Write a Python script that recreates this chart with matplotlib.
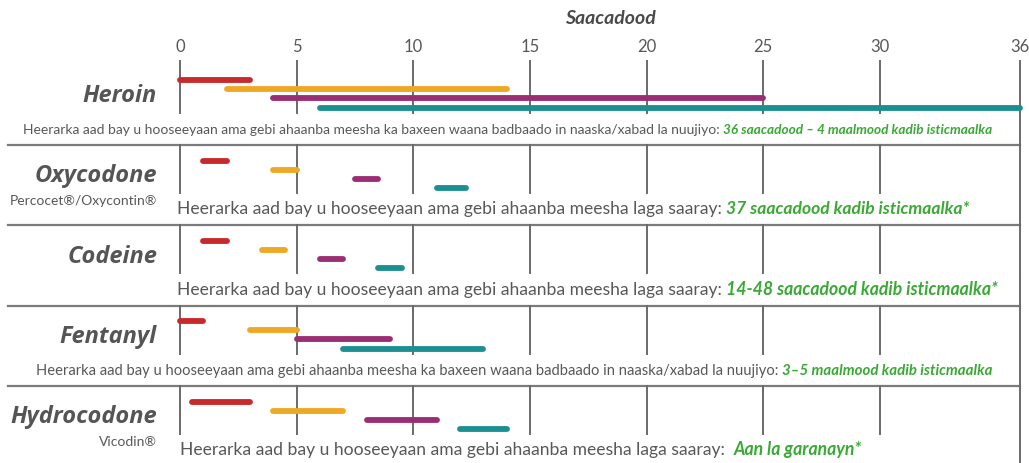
import matplotlib
matplotlib.use('Agg')
import matplotlib.pyplot as plt

plt.rcParams['font.family'] = ['Lato', 'DejaVu Sans']

# ---- data ----
drugs = ['Heroin', 'Oxycodone', 'Codeine', 'Fentanyl', 'Hydrocodone']
brands = ['', 'Percocet®/Oxycontin®', '', '', 'Vicodin®']

# detection windows in hours (start, end), one list per colour
red_bars = [(0, 3), (1, 2), (1, 2), (0, 1), (0.5, 3)]
orange_bars = [(2, 14), (4, 5), (3.5, 4.5), (3, 5), (4, 7)]
purple_bars = [(4, 25), (7.5, 8.5), (6, 7), (5, 9), (8, 11)]
teal_bars = [(6, 36), (11, 12.25), (8.5, 9.5), (7, 13), (12, 14)]

hour_ticks = [0, 5, 10, 15, 20, 25, 30, 36]
axis_title = 'Saacadood'

note_long = 'Heerarka aad bay u hooseeyaan ama gebi ahaanba meesha ka baxeen waana badbaado in naaska/xabad la nuujiyo: '
note_short = 'Heerarka aad bay u hooseeyaan ama gebi ahaanba meesha laga saaray: '
notes_gray = [note_long, note_short, note_short, note_long, note_short + ' ']
notes_green = ['36 saacadood – 4 maalmood kadib isticmaalka',
               '37 saacadood kadib isticmaalka*',
               '14-48 saacadood kadib isticmaalka*',
               '3–5 maalmood kadib isticmaalka',
               'Aan la garanayn*']

# ---- styling ----
bar_colors = ['#c8292b', '#efa823', '#9a2d73', '#1b8f92']
green = '#3aa935'
gray_txt = '#58585a'
line_gray = '#6a6a6a'

W, H = 1029, 463
fig = plt.figure(figsize=(W / 100, H / 100), dpi=100)
ax = fig.add_axes([0, 0, 1, 1])
ax.axis('off')

px_per_hr = 23.33
x0_px = 180
ax.set_xlim(-x0_px / px_per_hr, (W - x0_px) / px_per_hr)
row_h = 80.3
sep0 = 145
# y in row units: separator under row r sits at r + 0.5
ax.set_ylim((H - sep0) / row_h + 0.5, -sep0 / row_h + 0.5)

def ypx(p):
    return (p - sep0) / row_h + 0.5

def xpx(p):
    return (p - x0_px) / px_per_hr

n = len(drugs)
offs = [-0.305, -0.193, -0.081, 0.037]
all_bars = [red_bars, orange_bars, purple_bars, teal_bars]

for r in range(n):
    # vertical grid lines
    top = ypx(61) if r == 0 else r - 0.5
    for h in hour_ticks[:-1]:
        ax.plot([h, h], [top, r + 0.1], color=line_gray, lw=1.4, zorder=1)
    # separator
    if r < n - 1:
        ax.plot([xpx(8), 36], [r + 0.5, r + 0.5], color='#7b7b7b', lw=1.6, zorder=1)
    # bars
    for i, series in enumerate(all_bars):
        s, e = series[r]
        ax.plot([s, e], [r + offs[i], r + offs[i]], color=bar_colors[i], lw=4.2,
                solid_capstyle='round', zorder=3)
    # drug name and brand
    ax.text(xpx(157), r - 0.11, drugs[r], ha='right', va='center', fontsize=17,
            fontweight='bold', fontstyle='italic', color='#555555',
            family=['Open Sans', 'DejaVu Sans'])
    if brands[r]:
        ax.text(xpx(157), r + 0.2, brands[r], ha='right', va='center',
                fontsize=10, color=gray_txt)

# right border
ax.plot([36, 36], [ypx(61), ypx(H) + 0.1], color=line_gray, lw=1.4, zorder=1)

# axis tick labels and title
for h in hour_ticks:
    ax.text(h, ypx(47), str(h), ha='center', va='center', fontsize=12, color=gray_txt)
ax.text(xpx(610), ypx(18), axis_title, ha='center', va='center', fontsize=14,
        fontweight='bold', fontstyle='italic', color='#4a4a4a')

# notes: gray text followed by green bold italic
note_x = [xpx(23), xpx(177), xpx(177), xpx(36), xpx(180)]
note_fs = [10.0, 12.6, 12.6, 10.65, 12.6]
green_fs = [9.8, 12.6, 12.7, 10.8, 12.7]
renderer = fig.canvas.get_renderer()
inv = ax.transData.inverted()
for r in range(n):
    y = r + 0.363
    t = ax.text(note_x[r], y, notes_gray[r], ha='left', va='baseline',
                fontsize=note_fs[r], color=gray_txt)
    bb = t.get_window_extent(renderer)
    xe = inv.transform((bb.x1, bb.y0))[0]
    ax.text(xe, y, notes_green[r], ha='left', va='baseline', fontsize=green_fs[r],
            fontweight='bold', fontstyle='italic', color=green)

fig.savefig('out.png', dpi=100)
